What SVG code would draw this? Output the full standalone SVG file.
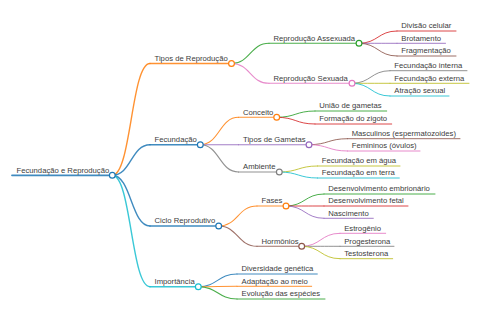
<svg xmlns="http://www.w3.org/2000/svg" width="480" height="320" viewBox="0 0 480 320">
<style>
text{font-family:"Liberation Sans",Arial,Helvetica,sans-serif;font-size:7.7px;fill:#3c3c3c}
path,line{fill:none;stroke-linecap:round;stroke-opacity:0.85}
circle{fill:#fff;stroke-width:1.2}
.d0{stroke-width:1.8}.d1{stroke-width:1.4}.d2{stroke-width:1.1}.d3{stroke-width:1}
.c0{stroke:#1f77b4}.c1{stroke:#ff7f0e}.c2{stroke:#2ca02c}.c3{stroke:#d62728}.c4{stroke:#9467bd}
.c5{stroke:#8c564b}.c6{stroke:#e377c2}.c7{stroke:#7f7f7f}.c8{stroke:#bcbd22}.c9{stroke:#17becf}
</style>
<rect width="480" height="320" fill="#fff"/>
<g id="connectors">
<path class="d1 c1" d="M112.3 175.3C131.2 175.3 131.2 63.5 150 63.5"/>
<path class="d1 c0" d="M112.3 175.3C131.2 175.3 131.2 144.7 150 144.7"/>
<path class="d1 c0" d="M112.3 175.3C131.2 175.3 131.2 226 150 226"/>
<path class="d1 c9" d="M112.3 175.3C131.2 175.3 131.2 286.7 150 286.7"/>
<path class="d2 c2" d="M231.5 63.5C250.2 63.5 250.2 43.3 269 43.3"/>
<path class="d2 c6" d="M231.5 63.5C250.2 63.5 250.2 83.3 269 83.3"/>
<path class="d3 c3" d="M359 43.3C378 43.3 378 31 397 31"/>
<path class="d3 c4" d="M359 43.3C378 43.3 378 43.3 397 43.3"/>
<path class="d3 c5" d="M359 43.3C378 43.3 378 56 397 56"/>
<path class="d3 c7" d="M352 83.3C371 83.3 371 70.7 390 70.7"/>
<path class="d3 c8" d="M352 83.3C371 83.3 371 83.3 390 83.3"/>
<path class="d3 c9" d="M352 83.3C371 83.3 371 96 390 96"/>
<path class="d2 c1" d="M200.3 144.7C219.4 144.7 219.4 117.3 238.5 117.3"/>
<path class="d2 c4" d="M200.3 144.7C219.4 144.7 219.4 144.7 238.5 144.7"/>
<path class="d2 c7" d="M200.3 144.7C219.4 144.7 219.4 172 238.5 172"/>
<path class="d3 c2" d="M276.7 117.3C295.8 117.3 295.8 111 315 111"/>
<path class="d3 c3" d="M276.7 117.3C295.8 117.3 295.8 124 315 124"/>
<path class="d3 c5" d="M309 144.7C328.2 144.7 328.2 138.7 347.5 138.7"/>
<path class="d3 c6" d="M309 144.7C328.2 144.7 328.2 151 347.5 151"/>
<path class="d3 c8" d="M279.3 172C298.4 172 298.4 166 317.5 166"/>
<path class="d3 c9" d="M279.3 172C298.4 172 298.4 178 317.5 178"/>
<path class="d2 c1" d="M218.7 226C237.8 226 237.8 206 257 206"/>
<path class="d2 c5" d="M218.7 226C237.8 226 237.8 246.3 257 246.3"/>
<path class="d3 c2" d="M286 206C305 206 305 194 324 194"/>
<path class="d3 c3" d="M286 206C305 206 305 206 324 206"/>
<path class="d3 c4" d="M286 206C305 206 305 218.3 324 218.3"/>
<path class="d3 c6" d="M301.7 246.3C320.8 246.3 320.8 233.3 340 233.3"/>
<path class="d3 c7" d="M301.7 246.3C320.8 246.3 320.8 246.3 340 246.3"/>
<path class="d3 c8" d="M301.7 246.3C320.8 246.3 320.8 258.7 340 258.7"/>
<path class="d2 c0" d="M198.3 286.7C217.6 286.7 217.6 274 237 274"/>
<path class="d2 c1" d="M198.3 286.7C217.6 286.7 217.6 286.3 237 286.3"/>
<path class="d2 c2" d="M198.3 286.7C217.6 286.7 217.6 299 237 299"/>
</g>
<g id="n-root"><line class="d0 c0" x1="12" y1="175.3" x2="112.3" y2="175.3"/><text x="16.5" y="172.7">Fecundação e Reprodução</text><circle class="c0" cx="112.3" cy="175.3" r="2.9"/></g>
<g id="n-tipos-reproducao"><line class="d1 c1" x1="150" y1="63.5" x2="231.5" y2="63.5"/><text x="154.5" y="60.9">Tipos de Reprodução</text><circle class="c1" cx="231.5" cy="63.5" r="2.9"/></g>
<g id="n-assexuada"><line class="d2 c2" x1="269" y1="43.3" x2="359" y2="43.3"/><text x="273.5" y="40.7">Reprodução Assexuada</text><circle class="c2" cx="359" cy="43.3" r="2.9"/></g>
<g id="n-divisao"><line class="d3 c3" x1="397" y1="31" x2="456" y2="31"/><text x="401.3" y="28.4">Divisão celular</text></g>
<g id="n-brotamento"><line class="d3 c4" x1="397" y1="43.3" x2="445.5" y2="43.3"/><text x="401.3" y="40.7">Brotamento</text></g>
<g id="n-fragmentacao"><line class="d3 c5" x1="397" y1="56" x2="456" y2="56"/><text x="401.3" y="53.4">Fragmentação</text></g>
<g id="n-sexuada"><line class="d2 c6" x1="269" y1="83.3" x2="352" y2="83.3"/><text x="273.5" y="80.7">Reprodução Sexuada</text><circle class="c6" cx="352" cy="83.3" r="2.9"/></g>
<g id="n-fec-interna"><line class="d3 c7" x1="390" y1="70.7" x2="467" y2="70.7"/><text x="394.3" y="68.1">Fecundação interna</text></g>
<g id="n-fec-externa"><line class="d3 c8" x1="390" y1="83.3" x2="469" y2="83.3"/><text x="394.3" y="80.7">Fecundação externa</text></g>
<g id="n-atracao"><line class="d3 c9" x1="390" y1="96" x2="449" y2="96"/><text x="394.3" y="93.4">Atração sexual</text></g>
<g id="n-fecundacao"><line class="d1 c0" x1="150" y1="144.7" x2="200.3" y2="144.7"/><text x="154.5" y="142.1">Fecundação</text><circle class="c0" cx="200.3" cy="144.7" r="2.9"/></g>
<g id="n-conceito"><line class="d2 c1" x1="238.5" y1="117.3" x2="276.7" y2="117.3"/><text x="243" y="114.7">Conceito</text><circle class="c1" cx="276.7" cy="117.3" r="2.9"/></g>
<g id="n-uniao"><line class="d3 c2" x1="315" y1="111" x2="386.7" y2="111"/><text x="319.2" y="108.4">União de gametas</text></g>
<g id="n-formacao"><line class="d3 c3" x1="315" y1="124" x2="391.7" y2="124"/><text x="319.2" y="121.4">Formação do zigoto</text></g>
<g id="n-tipos-gametas"><line class="d2 c4" x1="238.5" y1="144.7" x2="309" y2="144.7"/><text x="243" y="142.1">Tipos de Gametas</text><circle class="c4" cx="309" cy="144.7" r="2.9"/></g>
<g id="n-masculinos"><line class="d3 c5" x1="347.5" y1="138.7" x2="460" y2="138.7"/><text x="351.7" y="136.1">Masculinos (espermatozoides)</text></g>
<g id="n-femininos"><line class="d3 c6" x1="347.5" y1="151" x2="420" y2="151"/><text x="351.7" y="148.4">Femininos (óvulos)</text></g>
<g id="n-ambiente"><line class="d2 c7" x1="238.5" y1="172" x2="279.3" y2="172"/><text x="243" y="169.4">Ambiente</text><circle class="c7" cx="279.3" cy="172" r="2.9"/></g>
<g id="n-agua"><line class="d3 c8" x1="317.5" y1="166" x2="400" y2="166"/><text x="321.7" y="163.4">Fecundação em água</text></g>
<g id="n-terra"><line class="d3 c9" x1="317.5" y1="178" x2="399.3" y2="178"/><text x="321.7" y="175.4">Fecundação em terra</text></g>
<g id="n-ciclo"><line class="d1 c0" x1="150" y1="226" x2="218.7" y2="226"/><text x="154.5" y="223.4">Ciclo Reprodutivo</text><circle class="c0" cx="218.7" cy="226" r="2.9"/></g>
<g id="n-fases"><line class="d2 c1" x1="257" y1="206" x2="286" y2="206"/><text x="261.5" y="203.4">Fases</text><circle class="c1" cx="286" cy="206" r="2.9"/></g>
<g id="n-embrionario"><line class="d3 c2" x1="324" y1="194" x2="435" y2="194"/><text x="328.2" y="191.4">Desenvolvimento embrionário</text></g>
<g id="n-fetal"><line class="d3 c3" x1="324" y1="206" x2="408" y2="206"/><text x="328.2" y="203.4">Desenvolvimento fetal</text></g>
<g id="n-nascimento"><line class="d3 c4" x1="324" y1="218.3" x2="373.3" y2="218.3"/><text x="328.2" y="215.7">Nascimento</text></g>
<g id="n-hormonios"><line class="d2 c5" x1="257" y1="246.3" x2="301.7" y2="246.3"/><text x="261.5" y="243.7">Hormônios</text><circle class="c5" cx="301.7" cy="246.3" r="2.9"/></g>
<g id="n-estrogenio"><line class="d3 c6" x1="340" y1="233.3" x2="385.7" y2="233.3"/><text x="344.2" y="230.7">Estrogênio</text></g>
<g id="n-progesterona"><line class="d3 c7" x1="340" y1="246.3" x2="394" y2="246.3"/><text x="344.2" y="243.7">Progesterona</text></g>
<g id="n-testosterona"><line class="d3 c8" x1="340" y1="258.7" x2="392.7" y2="258.7"/><text x="344.2" y="256.1">Testosterona</text></g>
<g id="n-importancia"><line class="d1 c9" x1="150" y1="286.7" x2="198.3" y2="286.7"/><text x="154.5" y="284.1">Importância</text><circle class="c9" cx="198.3" cy="286.7" r="2.9"/></g>
<g id="n-diversidade"><line class="d3 c0" x1="237" y1="274" x2="317.3" y2="274"/><text x="241.5" y="271.4">Diversidade genética</text></g>
<g id="n-adaptacao"><line class="d3 c1" x1="237" y1="286.3" x2="311.7" y2="286.3"/><text x="241.5" y="283.7">Adaptação ao meio</text></g>
<g id="n-evolucao"><line class="d3 c2" x1="237" y1="299" x2="325" y2="299"/><text x="241.5" y="296.4">Evolução das espécies</text></g>
</svg>
